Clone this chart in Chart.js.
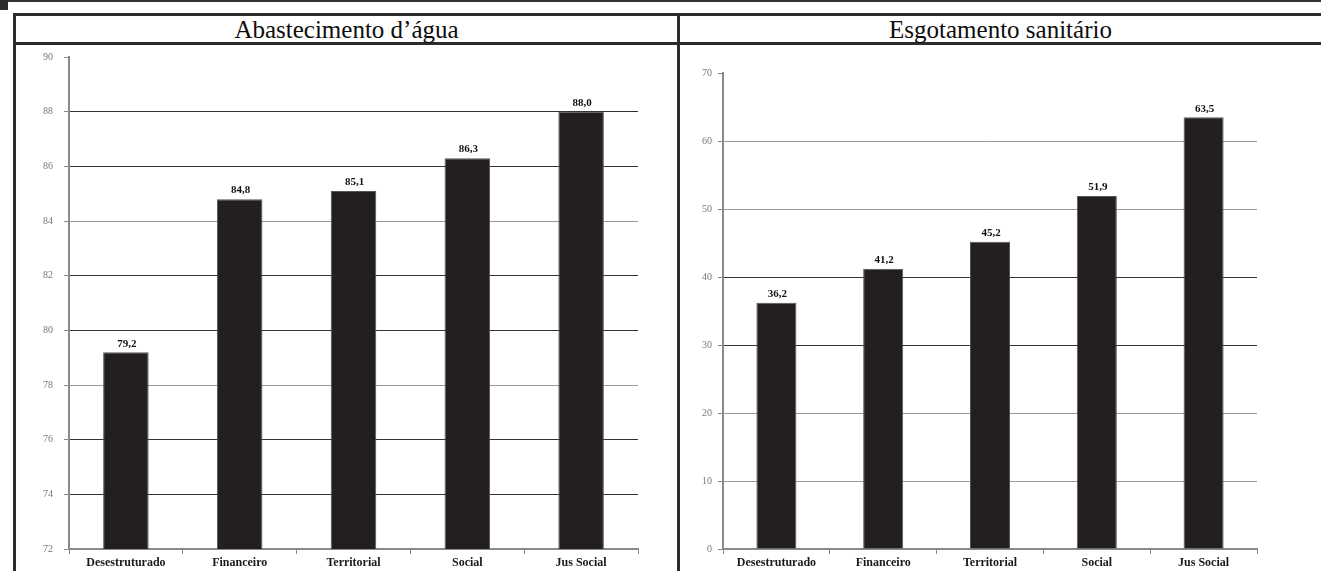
<!DOCTYPE html>
<html>
<head>
<meta charset="utf-8">
<script src="https://cdn.jsdelivr.net/npm/chart.js"></script>
<style>
  html, body { margin: 0; padding: 0; background: #fff; }
  body { width: 1321px; height: 571px; overflow: hidden; position: relative; }
  .topline { position: absolute; left: 0; top: 0; width: 1321px; height: 2px; background: #333; }
  .corner { position: absolute; left: 0; top: 0; width: 8px; height: 10px; background: #2a2a2a; }
  .frame { position: absolute; left: 13px; top: 13px; width: 1320px; height: 600px;
           border-left: 3px solid #2c2c2c; border-top: 3px solid #2c2c2c; }
  .titlerow { position: absolute; left: 16px; top: 16px; width: 1305px; height: 26px;
              border-bottom: 3px solid #2c2c2c; }
  .title { position: absolute; top: 16px; height: 26px; line-height: 27px; text-align: center;
           font-family: "Liberation Serif", serif; font-size: 25px; color: #0d0d0d; }
  .divider { position: absolute; left: 677px; top: 16px; width: 3px; height: 560px; background: #2c2c2c; }
  .cell { position: absolute; top: 45px; height: 526px; }
</style>
</head>
<body>
<div class="topline"></div>
<div class="corner"></div>
<div class="frame"></div>
<div class="titlerow"></div>
<div class="divider"></div>
<div class="title" style="left:16px;width:661px">Abastecimento d’água</div>
<div class="title" style="left:680px;width:641px">Esgotamento sanitário</div>
<div class="cell" style="left:16px;width:661px"><canvas id="agua"></canvas></div>
<div class="cell" style="left:680px;width:641px"><canvas id="esgoto"></canvas></div>

<script>
const categories = ['Desestruturado', 'Financeiro', 'Territorial', 'Social', 'Jus Social']
const aguaValues = [79.2, 84.8, 85.1, 86.3, 88.0]
const esgotoValues = [36.2, 41.2, 45.2, 51.9, 63.5]
const aguaTicks = { min: 72, max: 90, step: 2 }
const esgotoTicks = { min: 0, max: 70, step: 10 }
const aguaLightLines = [84, 78]
const esgotoLightLines = [60, 50, 20, 10]

const valueLabels = {
    id: 'valueLabels',
    afterDatasetsDraw(chart) {
        const ctx = chart.ctx
        const meta = chart.getDatasetMeta(0)
        ctx.save()
        ctx.font = 'bold 11px "Liberation Serif", serif'
        ctx.fillStyle = '#111'
        ctx.textAlign = 'center'
        ctx.textBaseline = 'bottom'
        meta.data.forEach((bar, i) => {
            const v = chart.data.datasets[0].data[i]
            ctx.fillText(v.toFixed(1).replace('.', ','), bar.x + 1, bar.y - 3)
        })
        ctx.restore()
    }
}

function makeChart(id, values, ticks, lightLines, yWidth, yPad, padRight, padTop, barPct) {
    return new Chart(document.getElementById(id), {
        type: 'bar',
        data: {
            labels: categories,
            datasets: [{
                data: values,
                backgroundColor: '#231f20',
                borderColor: '#555',
                borderWidth: 1,
                barPercentage: barPct,
                categoryPercentage: 1
            }]
        },
        options: {
            responsive: true,
            maintainAspectRatio: false,
            animation: false,
            layout: { padding: { top: padTop, right: padRight, left: 0, bottom: 0 } },
            plugins: { legend: { display: false }, tooltip: { enabled: false } },
            scales: {
                x: {
                    grid: { drawOnChartArea: false, offset: true, tickLength: 5, tickColor: '#888' },
                    border: { color: '#8a8a8a', width: 2 },
                    ticks: {
                        color: '#1a1a1a', padding: 2,
                        font: { family: '"Liberation Serif", serif', size: 12, weight: 'bold' }
                    },
                    afterFit: s => { s.height = 22 }
                },
                y: {
                    min: ticks.min, max: ticks.max,
                    grid: {
                        tickLength: 5,
                        tickColor: '#888',
                        color: c => {
                            const v = c.tick.value
                            if (v === ticks.max) return 'rgba(0,0,0,0)'
                            if (v === ticks.min || lightLines.includes(v)) return '#9a9a9a'
                            return '#333'
                        }
                    },
                    border: { color: '#8a8a8a', width: 2 },
                    ticks: {
                        stepSize: ticks.step, color: '#777', padding: yPad,
                        font: { family: '"Liberation Serif", serif', size: 10 }
                    },
                    afterFit: s => {
                        s.width = yWidth
                        s.paddingTop = 0
                        s.paddingBottom = 0
                    }
                }
            }
        },
        plugins: [valueLabels]
    })
}

makeChart('agua', aguaValues, aguaTicks, aguaLightLines, 53, 11, 39, 12, 0.4)
makeChart('esgoto', esgotoValues, esgotoTicks, esgotoLightLines, 43, 6, 64, 28, 0.375)
</script>
</body>
</html>
